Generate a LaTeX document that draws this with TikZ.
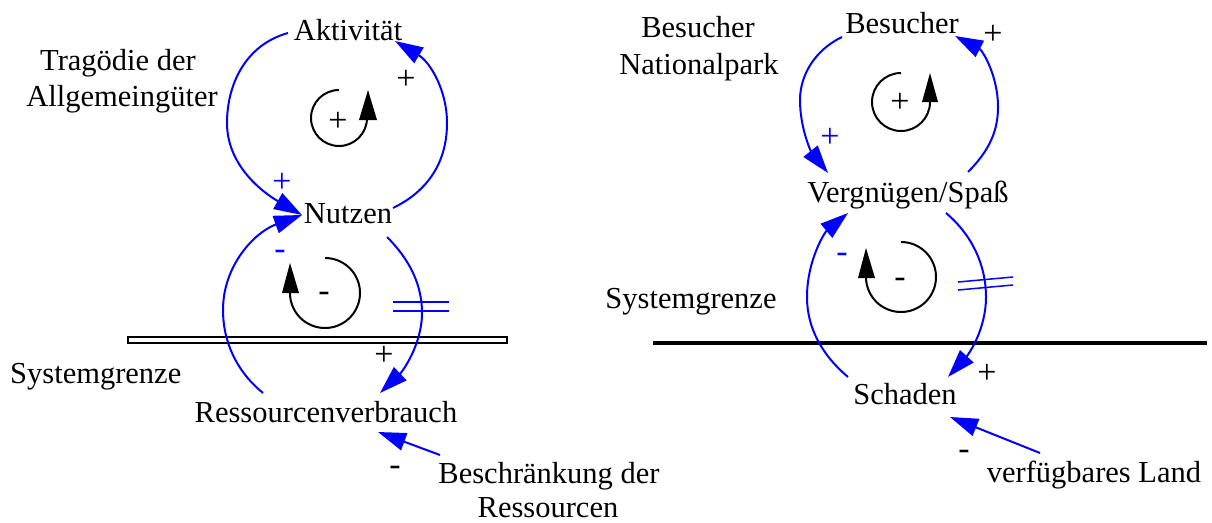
\documentclass[tikz,border=0pt]{standalone}
\usepackage{fontspec}
\setmainfont{Liberation Serif}
\usetikzlibrary{arrows.meta}
\definecolor{linkblue}{RGB}{0,0,255}
\begin{document}
\begin{tikzpicture}[x=1pt,y=-1pt,
  lbl/.style={inner sep=0pt, anchor=base, font=\fontsize{30.5}{36}\selectfont},
  sgn/.style={inner sep=0pt, font=\fontsize{34}{38}\selectfont},
  link/.style={draw=linkblue, line width=2pt, -{Triangle[length=28pt,width=18pt]}},
  loopline/.style={draw=black, line width=2pt},
  looptip/.style={fill=black},
  bars/.style={draw=linkblue, line width=1.5pt}
]
\useasboundingbox (0,0) rectangle (1212,522);

% system boundaries
\draw[line width=1.3pt, fill=white] (128,337) rectangle (507,343);
\draw[line width=4pt] (653,343) -- (1207,343);

% variables
\node[lbl] (akt) at (348,40) {Aktivität};
\node[lbl] (nutz) at (348,223) {Nutzen};
\node[lbl] (ress) at (326,422) {Ressourcenverbrauch};
\node[lbl] (besch1) at (549,483) {Beschränkung der};
\node[lbl] (besch2) at (548,517) {Ressourcen};
\node[lbl, anchor=base west] (sysL) at (10,383) {Systemgrenze};
\node[lbl] (trag1) at (118,70) {Tragödie der};
\node[lbl] (trag2) at (122,106) {Allgemeingüter};
\node[lbl] (bes) at (902,33) {Besucher};
\node[lbl] (np1) at (698,37) {Besucher};
\node[lbl] (np2) at (699,74) {Nationalpark};
\node[lbl] (verg) at (908,202) {Vergnügen/Spaß};
\node[lbl] (schad) at (905,404) {Schaden};
\node[lbl] (land) at (1094,482) {verfügbares Land};
\node[lbl] (sysR) at (691,308) {Systemgrenze};

% link end points next to the variables
\coordinate (aktL) at (288,33);
\coordinate (aktR) at (395,41);
\coordinate (nutzIn) at (302,215);
\coordinate (nutzR) at (393,208);
\coordinate (nutzB) at (387,237);
\coordinate (ressL) at (263,393);
\coordinate (ressR) at (380,393);
\coordinate (beschP) at (440,455);
\coordinate (ressIn) at (378,432);
\coordinate (besL) at (842,37);
\coordinate (besR) at (955,36);
\coordinate (vergL) at (828,173);
\coordinate (vergR) at (968,172);
\coordinate (vergBL) at (848,213);
\coordinate (vergBR) at (946,213);
\coordinate (schadL) at (848,377);
\coordinate (schadR) at (948,377);
\coordinate (landP) at (1040,453);
\coordinate (schadIn) at (950,417);

% left: reinforcing loop Aktivitaet / Nutzen
\draw[link] (aktL) .. controls (245,45) and (227,85) .. (227,123)
  .. controls (227,165) and (262,192) .. (nutzIn);
\draw[link] (nutzR) .. controls (430,190) and (447,160) .. (447,123)
  .. controls (447,90) and (430,62) .. (aktR);
% left: balancing loop Nutzen / Ressourcenverbrauch
\draw[link] (ressL) .. controls (235,370) and (223,340) .. (223,310)
  .. controls (223,265) and (255,232) .. (nutzIn);
\draw[link] (nutzB) .. controls (410,260) and (422,285) .. (422,313)
  .. controls (422,345) and (402,372) .. (ressR);
\draw[bars] (393,302) -- (449,302) (393,311) -- (449,311);
\draw[link] (beschP) -- (ressIn);

% right: reinforcing loop Besucher / Vergnuegen
\draw[link] (besL) .. controls (815,50) and (800,75) .. (800,100)
  .. controls (800,130) and (812,153) .. (vergL);
\draw[link] (vergR) .. controls (990,150) and (998,130) .. (998,107)
  .. controls (998,75) and (982,50) .. (besR);
% right: balancing loop Vergnuegen / Schaden
\draw[link] (schadL) .. controls (822,355) and (807,328) .. (807,297)
  .. controls (807,260) and (825,232) .. (vergBL);
\draw[link] (vergBR) .. controls (972,235) and (986,265) .. (986,297)
  .. controls (986,330) and (968,355) .. (schadR);
\draw[bars] (958,282) -- (1013,277) (958,290) -- (1013,285);
\draw[link] (landP) -- (schadIn);

% loop symbols
\draw[loopline] (339,90) arc[start angle=270, end angle=0, radius=28];
\fill[looptip] (359,120) -- (377,120) -- (368,90) -- cycle;
\draw[loopline] (325,258) arc[start angle=270, end angle=540, radius=35];
\fill[looptip] (282,293) -- (299,293) -- (290,263) -- cycle;
\draw[loopline] (901,73) arc[start angle=270, end angle=0, radius=29];
\fill[looptip] (922,102) -- (938,102) -- (930,73) -- cycle;
\draw[loopline] (901,242) arc[start angle=270, end angle=540, radius=35];
\fill[looptip] (858,278) -- (875,278) -- (866,248) -- cycle;

% polarity signs
\node[sgn, text=linkblue] (p1) at (282,183) {+};
\node[sgn] (p2) at (406,80) {+};
\node[sgn] (p3) at (338,122) {+};
\node[sgn, text=linkblue] (p4) at (280,255) {-};
\node[sgn] (p5) at (324,297) {-};
\node[sgn] (p6) at (384,356) {+};
\node[sgn] (p7) at (395,471) {-};
\node[sgn, text=linkblue] (p8) at (830,138) {+};
\node[sgn] (p9) at (993,35) {+};
\node[sgn] (p10) at (900,103) {+};
\node[sgn, text=linkblue] (p11) at (842,258) {-};
\node[sgn] (p12) at (900,283) {-};
\node[sgn] (p13) at (987,374) {+};
\node[sgn] (p14) at (964,455) {-};
\end{tikzpicture}
\end{document}
